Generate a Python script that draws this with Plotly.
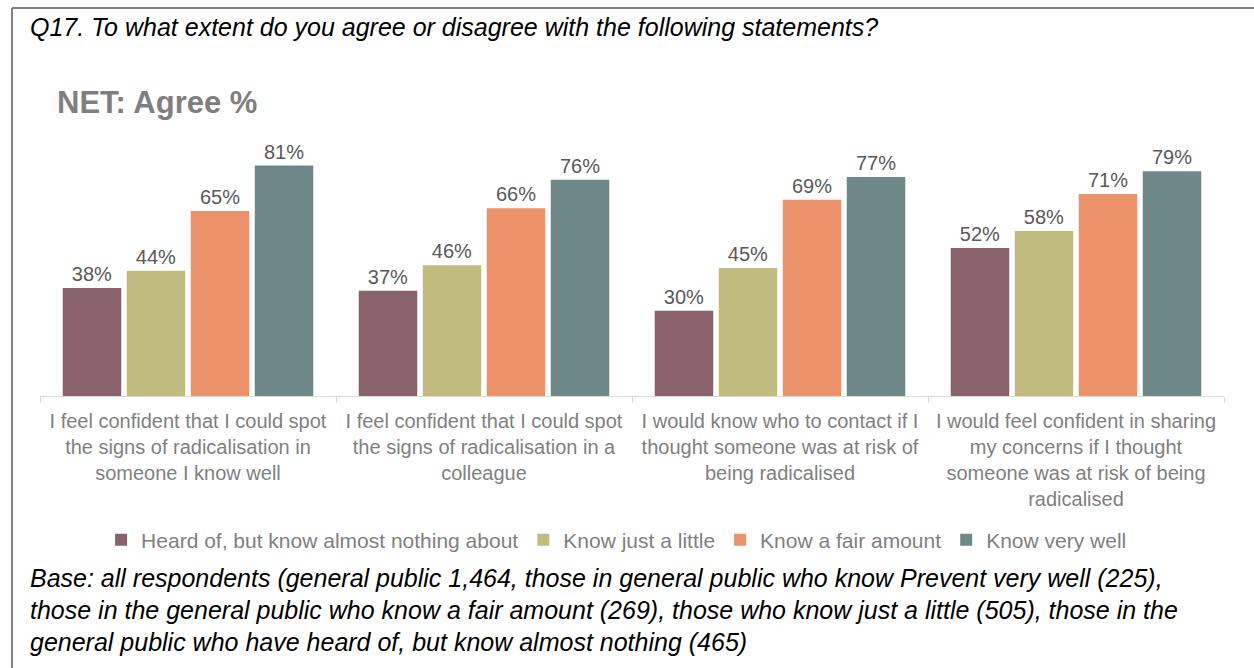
import plotly.graph_objects as go

# Survey statements (x categories), wrapped as they appear under the axis
statements = [
    "I feel confident that I could spot<br>the signs of radicalisation in<br>someone I know well",
    "I feel confident that I could spot<br>the signs of radicalisation in a<br>colleague",
    "I would know who to contact if I<br>thought someone was at risk of<br>being radicalised",
    "I would feel confident in sharing<br>my concerns if I thought<br>someone was at risk of being<br>radicalised",
]

# Awareness groups (series) and their NET agree percentages
groups = [
    "Heard of, but know almost nothing about",
    "Know just a little",
    "Know a fair amount",
    "Know very well",
]
heard_of = [38, 37, 30, 52]
just_a_little = [44, 46, 45, 58]
fair_amount = [65, 66, 69, 71]
very_well = [81, 76, 77, 79]

colors = ["#8a626c", "#c0bb7e", "#eb926a", "#6e888a"]
font_family = "Arial, Liberation Sans, sans-serif"

fig = go.Figure()
for name, values, color in zip(groups, [heard_of, just_a_little, fair_amount, very_well], colors):
    fig.add_trace(go.Bar(
        x=statements,
        y=values,
        name=name,
        marker=dict(color=color, line=dict(width=0)),
        text=[f"{v}%" for v in values],
        textposition="outside",
        textfont=dict(size=20, color="#595959", family=font_family),
        cliponaxis=False,
    ))

fig.update_layout(
    width=1254,
    height=668,
    margin=dict(l=40, r=30, t=140, b=272),
    paper_bgcolor="white",
    plot_bgcolor="white",
    barmode="group",
    bargap=0.135,
    bargroupgap=0.086,
    font=dict(family=font_family, color="#7f7f7f", size=20),
    showlegend=True,
    legend=dict(
        orientation="h",
        x=0.487, xanchor="center",
        y=-0.5625, yanchor="middle",
        font=dict(size=21, color="#7f7f7f"),
        traceorder="normal",
        itemclick=False,
    ),
    xaxis=dict(
        showline=True,
        linecolor="#d9d9d9",
        linewidth=1,
        ticks="outside",
        tickson="boundaries",
        ticklen=6,
        tickcolor="#d9d9d9",
        ticklabelstandoff=7,
        tickfont=dict(size=20, color="#7f7f7f"),
        showgrid=False,
        zeroline=False,
    ),
    yaxis=dict(
        range=[0, 90],
        visible=False,
        showgrid=False,
        zeroline=False,
    ),
)

# Frame lines along the top and left edge
fig.add_shape(type="line", xref="paper", yref="paper",
              x0=-28 / 1184, x1=1224 / 1184 + 30 / 1184,
              y0=1 + (140 - 8) / 256, y1=1 + (140 - 8) / 256,
              line=dict(color="#808080", width=2))
fig.add_shape(type="line", xref="paper", yref="paper",
              x0=-28 / 1184, x1=-28 / 1184,
              y0=1 + (140 - 8) / 256, y1=-272 / 256,
              line=dict(color="#808080", width=2))

# Question text
fig.add_annotation(
    text="<i>Q17. To what extent do you agree or disagree with the following statements?</i>",
    xref="paper", yref="paper", x=-12 / 1184, y=1 + (140 - 27) / 256,
    xanchor="left", yanchor="middle", showarrow=False,
    font=dict(size=25, color="#000000", family=font_family),
)

# Chart heading
fig.add_annotation(
    text="<b>NET: Agree %</b>",
    xref="paper", yref="paper", x=15 / 1184, y=1 + (140 - 102) / 256,
    xanchor="left", yanchor="middle", showarrow=False,
    font=dict(size=31, color="#7f7f7f", family=font_family),
)

# Base note
base_lines = [
    "Base: all respondents (general public 1,464, those in general public who know Prevent very well (225),",
    "those in the general public who know a fair amount (269), those who know just a little (505), those in the",
    "general public who have heard of, but know almost nothing (465)",
]
for i, line in enumerate(base_lines):
    y_px = 578 + i * 32
    fig.add_annotation(
        text=f"<i>{line}</i>",
        xref="paper", yref="paper", x=-12 / 1184, y=-(y_px - 396) / 256,
        xanchor="left", yanchor="middle", showarrow=False,
        font=dict(size=25, color="#000000", family=font_family),
    )

fig.write_html("out.html")
